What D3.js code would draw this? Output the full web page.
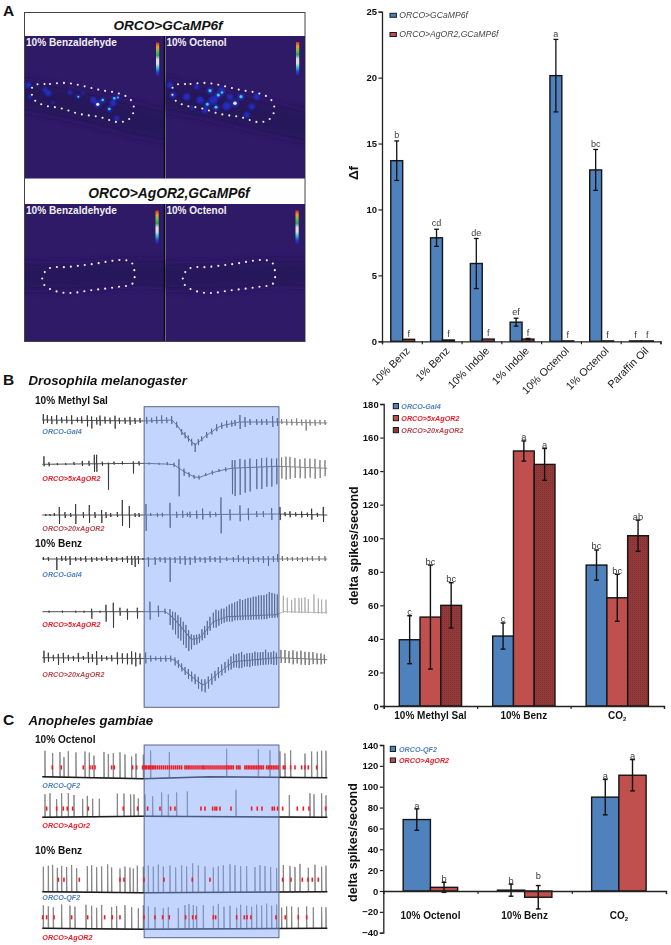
<!DOCTYPE html>
<html>
<head>
<meta charset="utf-8">
<script src="https://cdn.jsdelivr.net/npm/d3@7"></script>
<style>
  body { margin: 0; background: #fff; }
  svg { display: block; }
  text { font-family: "Liberation Sans", Arial, sans-serif; }
</style>
</head>
<body>
<div id="chart"></div>
<script>
var width = 671;
var height = 945;

// panel A bars
var aCategories = ['10% Benz', '1% Benz', '10% Indole', '1% Indole', '10% Octenol', '1% Octenol', 'Paraffin Oil'];
var aSeries = ['ORCO>GCaMP6f', 'ORCO>AgOR2,GCaMP6f'];
var aBlue = [13.7, 7.85, 5.9, 1.45, 20.15, 13.0, 0.03];
var aBlueErr = [1.5, 0.65, 1.9, 0.3, 2.75, 1.55, 0];
var aRed = [0.15, 0.1, 0.17, 0.17, 0.03, 0.03, 0.03];
var aRedErr = [0, 0, 0, 0.05, 0, 0, 0];
var aBlueLetters = ['b', 'cd', 'de', 'ef', 'a', 'bc', 'f'];
var aRedLetters = ['f', 'f', 'f', 'f', 'f', 'f', 'f'];
var aTicks = [0, 5, 10, 15, 20, 25];

// panel B bars
var bCategories = ['10% Methyl Sal', '10% Benz', 'CO2'];
var bSeries = ['ORCO-Gal4', 'ORCO>5xAgOR2', 'ORCO>20xAgOR2'];
var bGal4 = [39.5, 41.7, 84];
var bGal4Err = [14.3, 7.8, 9];
var b5x = [53, 152, 64.5];
var b5xErr = [31, 6, 14];
var b20x = [60, 144, 101.5];
var b20xErr = [13.5, 9.5, 9.3];
var bGal4Letters = ['c', 'c', 'bc'];
var b5xLetters = ['bc', 'a', 'bc'];
var b20xLetters = ['bc', 'a', 'ab'];
var bTicks = [0, 20, 40, 60, 80, 100, 120, 140, 160, 180];

// panel C bars
var cCategories = ['10% Octenol', '10% Benz', 'CO2'];
var cSeries = ['ORCO-QF2', 'ORCO>AgOR2'];
var cQf2 = [68.5, 0.8, 90];
var cQf2Err = [10.3, 5.8, 17];
var cAgOr2 = [3.5, -6, 111];
var cAgOr2Err = [4.8, 11.2, 15];
var cQf2Letters = ['a', 'b', 'a'];
var cAgOr2Letters = ['b', 'b', 'a'];
var cTicks = [-40, -20, 0, 20, 40, 60, 80, 100, 120, 140];

var b1Base = [[0,0],[303,-1],[393,0],[418,-12],[458,-25],[493,-15],[533,-6],[593,-2],[703,-2],[855,-3]];
var b1Spikes = [[3,6,4],[15,5,3],[28,4,4],[43,5,4],[58,3,3],[73,4,3],[88,5,4],[105,3,2],[118,4,3],[135,5,6],[148,4,8],[163,3,4],[173,5,5],[188,4,3],[203,3,3],[218,5,8],[231,3,3],[248,3,3],[263,4,4],[278,3,3],[293,3,2],[313,4,3],[328,3,2],[343,4,3],[358,5,3],[373,3,3],[388,4,4],[403,3,3],[418,3,3],[428,3,3],[438,3,3],[448,3,4],[458,2,7],[468,3,3],[478,3,2],[493,3,3],[508,3,3],[523,4,3],[538,3,3],[553,4,3],[568,3,3],[578,3,3],[593,7,7],[608,5,5],[623,3,3],[643,3,3],[658,3,3],[673,3,3],[691,6,5],[705,4,4],[718,3,2],[733,3,3],[748,3,3],[763,4,3],[778,3,3],[791,3,8],[803,3,3],[818,3,3],[833,3,2],[848,3,2]];

var b2Base = [[0,-1],[303,0],[393,-1],[423,-8],[463,-15],[513,-9],[563,-5],[703,-3],[855,-5]];
var b2Spikes = [[5,8,2],[20,2,2],[45,1,1],[70,1,1],[95,2,1],[120,3,2],[140,3,2],[156,9,8],[163,9,8],[180,2,2],[198,1,26],[215,2,1],[240,2,1],[273,2,10],[290,2,2],[320,1,1],[350,1,1],[375,2,1],[395,2,2],[410,9,28],[425,3,4],[440,2,3],[455,2,2],[470,2,2],[490,2,1],[510,2,2],[530,2,1],[550,2,2],[570,8,26],[578,8,28],[593,9,27],[608,8,25],[623,9,24],[643,8,22],[658,9,22],[673,9,20],[688,8,20],[703,8,18],[718,9,12],[731,10,13],[743,10,12],[758,9,11],[773,8,11],[788,9,11],[803,9,10],[818,9,11],[833,8,10],[848,8,8]];

var b3Base = [[0,0],[303,0],[703,1],[855,0]];
var b3Spikes = [[10,1,1],[23,1,1],[36,2,1],[51,8,9],[68,3,3],[85,2,2],[100,11,9],[123,3,3],[141,10,8],[158,3,3],[178,5,8],[191,3,3],[205,2,2],[225,3,2],[240,15,11],[261,9,13],[278,2,2],[290,2,2],[311,11,16],[325,2,1],[345,2,2],[360,2,2],[383,12,13],[403,3,3],[421,4,3],[435,2,2],[443,3,3],[463,4,4],[481,6,5],[503,3,3],[520,2,2],[536,17,19],[563,5,6],[593,9,7],[618,6,6],[643,3,3],[663,3,3],[688,6,6],[713,7,6],[728,2,2],[743,3,3],[760,2,2],[778,3,3],[795,2,2],[808,6,5],[825,2,2],[843,8,7]];

var b4Base = [[0,0],[855,0]];
var b4Spikes = [[3,2,1],[18,2,2],[43,2,11],[58,3,2],[70,3,2],[83,3,6],[100,2,2],[115,2,2],[130,3,3],[148,2,3],[163,2,2],[178,2,2],[193,3,2],[208,2,3],[223,2,2],[240,2,3],[255,3,4],[268,3,6],[278,3,8],[288,3,5],[302,1,1],[318,2,8],[338,2,6],[353,2,3],[368,2,4],[383,2,23],[398,2,4],[413,3,5],[428,3,6],[443,2,6],[458,3,4],[473,2,3],[488,2,4],[503,3,3],[518,2,3],[533,3,4],[553,2,2],[573,2,3],[588,4,3],[603,3,3],[618,2,5],[633,3,3],[648,2,3],[663,3,4],[678,3,7],[693,3,3],[706,5,3],[720,3,2],[735,2,2],[750,2,2],[765,2,2],[780,2,3],[795,2,2],[810,3,2],[830,3,2],[848,3,2]];

var b5Base = [[0,0],[373,0],[403,-10],[448,-28],[473,-26],[513,-10],[553,-5],[703,-3],[723,0],[855,-1]];
var b5Spikes = [[20,1,1],[60,1,1],[100,1,1],[125,1,1],[148,3,7],[173,1,1],[191,7,10],[213,9,16],[233,4,4],[255,3,8],[285,4,7],[323,10,8],[348,6,5],[368,3,2],[383,6,10],[391,6,12],[399,8,14],[407,8,15],[415,9,14],[423,8,15],[431,8,15],[439,6,15],[447,5,10],[455,4,6],[463,4,6],[471,4,5],[479,6,5],[487,6,6],[495,8,6],[503,9,5],[513,9,6],[521,11,7],[529,9,6],[537,10,5],[545,9,5],[553,10,5],[561,12,5],[569,13,5],[577,14,4],[585,15,4],[593,17,4],[601,16,4],[609,17,4],[617,18,4],[625,18,4],[633,19,4],[641,19,4],[649,20,4],[657,20,4],[665,20,4],[673,21,4],[681,23,3],[689,22,3],[697,21,3],[705,20,3],[723,16,1],[735,14,1],[748,12,1],[758,14,1],[770,14,1],[778,14,1],[788,15,1],[798,13,1],[815,18,1],[828,14,1],[838,13,1],[851,13,1]];

var b6Base = [[0,0],[393,-1],[433,-15],[483,-28],[533,-14],[573,-4],[703,0],[855,-2]];
var b6Spikes = [[5,7,5],[18,5,4],[33,3,3],[48,4,7],[63,5,5],[78,3,3],[93,2,3],[108,5,4],[123,2,2],[138,6,5],[150,4,4],[163,7,7],[178,3,3],[193,2,2],[208,3,3],[225,6,6],[240,5,5],[255,5,6],[268,7,6],[280,6,8],[293,5,6],[310,6,5],[325,3,3],[340,2,2],[355,2,3],[370,3,3],[385,3,3],[398,3,5],[408,4,4],[418,4,4],[428,4,4],[438,5,5],[448,5,5],[458,5,5],[468,5,7],[478,5,7],[488,5,8],[498,5,7],[508,5,6],[518,5,5],[528,6,5],[538,6,5],[548,6,5],[558,6,5],[566,7,6],[574,8,6],[582,7,6],[590,8,7],[598,9,7],[606,6,6],[614,7,6],[622,7,7],[630,7,6],[638,8,6],[646,7,6],[654,7,6],[662,7,6],[670,9,6],[678,6,6],[686,6,6],[694,7,7],[702,5,7],[716,8,5],[728,8,5],[740,7,5],[752,8,6],[764,7,5],[776,8,6],[788,7,6],[800,7,6],[812,7,5],[824,6,5],[836,6,5],[846,5,4]];

// C recordings: baseline is [time, level], spikes are [time, height], counted spikes are times
var c1Base = [[0,0],[305,-2],[500,0],[855,-1]];
var c1Spikes = [[8,26],[31,24],[53,25],[65,20],[78,26],[101,25],[128,26],[141,25],[155,22],[185,26],[198,24],[213,25],[233,26],[248,24],[268,22],[281,25],[303,24],[325,28],[381,26],[553,28],[648,28],[683,27],[713,26],[728,24],[745,27],[788,24],[808,26],[825,26],[838,27],[851,27]];
var c1Counted = [30,57,123,143,150,158,208,216,271,283,301,305,309,313,318,322,326,331,335,340,346,352,358,364,370,376,382,388,394,400,406,412,418,428,433,438,443,449,455,461,467,473,479,483,488,494,500,506,512,518,524,530,536,542,548,553,558,563,568,573,583,588,593,608,613,618,623,628,633,638,643,648,653,658,663,673,678,683,688,693,698,703,708,723,728,745,758,778,788,798,823];

var c2Base = [[0,0],[305,1],[855,0]];
var c2Spikes = [[8,23],[23,24],[43,18],[58,24],[78,24],[95,22],[121,18],[135,21],[151,18],[171,18],[225,23],[245,23],[265,22],[275,22],[288,18],[308,22],[331,20],[358,24],[378,22],[403,24],[435,25],[581,27],[741,22],[803,24],[815,23],[838,24],[851,22]];
var c2Counted = [13,43,63,75,91,138,243,286,316,353,385,398,476,488,511,518,523,533,566,628,645,659,690,696,706,721,765,783,800,850];

var c3Base = [[0,0],[300,-1],[855,0]];
var c3Spikes = [[3,25],[18,26],[31,27],[45,24],[58,26],[73,25],[88,27],[103,24],[135,26],[148,27],[163,25],[178,26],[196,28],[208,25],[233,24],[248,26],[263,25],[273,24],[285,27],[303,26],[318,27],[333,26],[348,28],[363,26],[383,27],[400,25],[418,27],[433,26],[451,29],[468,27],[488,26],[513,25],[528,26],[543,27],[563,28],[578,27],[595,26],[613,26],[638,25],[653,27],[668,26],[685,25],[703,24],[723,27],[743,26],[758,25],[773,28],[798,24],[818,27],[838,25],[851,26]];
var c3Counted = [48,65,111,233,245,305,365,450,503,721,746,780,797,810,828];

var c4Base = [[0,0],[300,-1],[855,0]];
var c4Spikes = [[3,23],[18,22],[33,21],[58,24],[83,23],[98,22],[131,24],[148,23],[163,21],[178,24],[208,22],[223,23],[248,24],[268,22],[288,21],[303,24],[318,23],[338,22],[363,21],[378,22],[408,21],[428,24],[440,25],[453,24],[463,23],[483,24],[513,23],[528,25],[545,22],[563,23],[583,21],[595,24],[613,23],[628,22],[643,24],[658,23],[673,25],[688,23],[703,24],[718,21],[733,22],[748,22],[768,21],[793,22],[813,21],[838,21],[851,21]];
var c4Counted = [1,13,35,88,136,187,210,233,305,338,361,381,430,451,461,513,520,583,606,614,626,701,729,768,793];

var traceTimes = [0, 855];

// image panel A outlines and fluorescence spots: [x, y, radius, level]
var roiUpper = [[33,86],[50,84],[67,83],[83,86],[100,90],[117,93],[130,99],[134,110],[128,120],[117,122],[100,117],[80,114],[60,108],[43,105],[33,98]];
var roiLower = [[43,275],[50,268],[67,267],[93,264],[123,260],[132,263],[133,283],[117,287],[93,290],[67,293],[50,289],[43,283]];
var spots = [[97.7,104.3,2,2],[102.7,100,1.6,1],[109.3,109,1.7,1],[114.3,98.3,1.6,1],[118,97.5,1.2,1],[78.3,96.7,1.3,1],[70,92.3,2.2,0],[48.3,93.3,3,0],[45,90,2.5,0],[53,102.7,1.5,0],[28.3,85,3,0],[30,96.7,2,0],[93.3,100,3,0],[116.7,118.3,2.5,0],[113,103,3,0],[83,93,1.5,0],
  [210,90.7,2,1],[218.3,95,2,1],[222,92.5,1.6,1],[207.3,104.3,1.8,1],[216,107.3,1.8,1],[235,103.3,2.2,2],[241,96.7,2,1],[173,95,3,0],[170,85,3,0],[186.7,96.7,3.5,0],[200,100,3.5,0],[205,110,3,0],[226.7,106,4,0],[251.7,106.7,3,0],[246.7,115,3,0],[256.7,96.7,3,0],[196.7,86.7,2.5,0],[221.7,90,3,0],[230,96.7,3,0],[213.3,100,4,0],[192,108,2,0]];
var spotColors = ['#2233d8', '#3fd0c8', '#e8f5c0'];
var colorbarStops = ['#d8301c', '#e8a020', '#6cc040', '#30a060', '#d8e0d8', '#d8e0d8', '#30c0c0', '#2040d8', '#2a1a78'];

var svg = d3.select('#chart')
  .append('svg')
  .attr('width', width)
  .attr('height', height);

var defs = svg.append('defs');

function addBlur(id, amount) {
  defs.append('filter')
    .attr('id', id)
    .attr('filterUnits', 'userSpaceOnUse')
    .attr('x', 0).attr('y', 0).attr('width', width).attr('height', height)
    .append('feGaussianBlur')
    .attr('stdDeviation', amount);
}
addBlur('soft', 0.3);
addBlur('glow', 1.3);
addBlur('wide', 4);

// dotted fill of the third bar in B
var hatch = defs.append('pattern')
  .attr('id', 'hatch')
  .attr('patternUnits', 'userSpaceOnUse')
  .attr('width', 2)
  .attr('height', 2);
hatch.append('rect').attr('width', 2).attr('height', 2).attr('fill', '#933b3a');
hatch.append('rect').attr('width', 1).attr('height', 1).attr('fill', '#7f2d2d');

var cbGrad = defs.append('linearGradient')
  .attr('id', 'cbar')
  .attr('x1', 0).attr('x2', 0).attr('y1', 0).attr('y2', 1);
cbGrad.selectAll('stop')
  .data(colorbarStops)
  .enter().append('stop')
  .attr('offset', function(d, i) { return i / (colorbarStops.length - 1); })
  .attr('stop-color', function(d) { return d; });

function addText(parent, str, x, y, size, opts) {
  opts = opts || {};
  return parent.append('text')
    .attr('x', x)
    .attr('y', y)
    .attr('font-size', size)
    .attr('font-weight', opts.weight || 'bold')
    .attr('font-style', opts.italic ? 'italic' : 'normal')
    .attr('fill', opts.color || '#111')
    .attr('text-anchor', opts.anchor || 'start')
    .text(str);
}

// ---- panel A image ----
var imgA = svg.append('g');

imgA.append('rect').attr('x', 24.5).attr('y', 12.5).attr('width', 280.5).attr('height', 329)
  .attr('fill', '#fff').attr('stroke', '#444').attr('stroke-width', 1);

var panes = [
  { x: 25, y: 36, w: 139, h: 142.5 }, { x: 165.5, y: 36, w: 139.5, h: 142.5 },
  { x: 25, y: 204, w: 139, h: 137 }, { x: 165.5, y: 204, w: 139.5, h: 137 }
];
imgA.selectAll('.pane')
  .data(panes)
  .enter().append('rect')
  .attr('class', 'pane')
  .attr('x', function(d) { return d.x; })
  .attr('y', function(d) { return d.y; })
  .attr('width', function(d) { return d.w; })
  .attr('height', function(d) { return d.h; })
  .attr('fill', '#2f1a68');

// dark antenna band behind the outlines
defs.selectAll('.paneClip')
  .data(panes)
  .enter().append('clipPath')
  .attr('id', function(d, i) { return 'pane' + i; })
  .append('rect')
  .attr('x', function(d) { return d.x; })
  .attr('y', function(d) { return d.y; })
  .attr('width', function(d) { return d.w; })
  .attr('height', function(d) { return d.h; });

var band = d3.line().curve(d3.curveBasis);
panes.forEach(function(p, i) {
  var upper = i < 2;
  var pts = upper
    ? [[p.x - 10, p.y + 58], [p.x + 50, p.y + 68], [p.x + 100, p.y + 82], [p.x + 150, p.y + 92]]
    : [[p.x - 10, p.y + 72], [p.x + 50, p.y + 74], [p.x + 100, p.y + 68], [p.x + 150, p.y + 70]];
  imgA.append('g').attr('clip-path', 'url(#pane' + i + ')')
    .append('path')
    .attr('d', band(pts))
    .attr('fill', 'none')
    .attr('stroke', '#26135a')
    .attr('stroke-width', upper ? 30 : 26)
    .attr('filter', 'url(#wide)');
});

// spots, blue glow first and bright cores on top
imgA.append('g').attr('filter', 'url(#glow)').attr('opacity', 0.85)
  .selectAll('circle')
  .data(spots)
  .enter().append('circle')
  .attr('cx', function(d) { return d[0]; })
  .attr('cy', function(d) { return d[1]; })
  .attr('r', function(d) { return d[3] ? d[2] * 1.6 : d[2]; })
  .attr('fill', spotColors[0]);
imgA.append('g').attr('filter', 'url(#soft)')
  .selectAll('circle')
  .data(spots.filter(function(d) { return d[3] > 0; }))
  .enter().append('circle')
  .attr('cx', function(d) { return d[0]; })
  .attr('cy', function(d) { return d[1]; })
  .attr('r', function(d) { return d[2] * 0.8; })
  .attr('fill', function(d) { return spotColors[d[3]]; });

// dotted outlines
function drawRoi(points, dx) {
  var line = d3.line().curve(d3.curveCatmullRomClosed.alpha(0.5));
  var path = imgA.append('path')
    .attr('d', line(points))
    .attr('fill', 'none')
    .attr('transform', 'translate(' + dx + ',0)');
  var node = path.node();
  var len = node.getTotalLength();
  imgA.selectAll(null)
    .data(d3.range(0, len, 7))
    .enter().append('circle')
    .attr('cx', function(d) { return node.getPointAtLength(d).x + dx; })
    .attr('cy', function(d) { return node.getPointAtLength(d).y; })
    .attr('r', 1.05)
    .attr('fill', '#f4f4f4');
}
drawRoi(roiUpper, 0);
drawRoi(roiUpper, 140.5);
drawRoi(roiLower, 0);
drawRoi(roiLower, 140.5);

// divider
imgA.append('rect').attr('x', 163.7).attr('y', 36).attr('width', 1.6).attr('height', 142.5).attr('fill', '#0a0a14');
imgA.append('rect').attr('x', 163.7).attr('y', 204).attr('width', 1.6).attr('height', 137).attr('fill', '#0a0a14');

// colour bars
[[156, 42.5], [296, 42], [155.5, 210.5], [295.5, 210.5]].forEach(function(p) {
  imgA.append('rect').attr('x', p[0]).attr('y', p[1]).attr('width', 3.2).attr('height', 34).attr('fill', 'url(#cbar)');
});

addText(imgA, 'ORCO>GCaMP6f', 168, 29.5, 13.6, { italic: true, anchor: 'middle' });
addText(imgA, 'ORCO>AgOR2,GCaMP6f', 169, 197.5, 13.8, { italic: true, anchor: 'middle' });
var paneLabel = { color: '#f0f0f0' };
addText(imgA, '10% Benzaldehyde', 26, 46, 10.1, paneLabel);
addText(imgA, '10% Octenol', 166.5, 46, 10, paneLabel);
addText(imgA, '10% Benzaldehyde', 26, 214, 10.1, paneLabel);
addText(imgA, '10% Octenol', 166.5, 214, 10, paneLabel);

addText(svg, 'A', 3, 16, 15.5);
addText(svg, 'B', 3, 385, 15.5);
addText(svg, 'C', 3, 725, 15.5);

// ---- recordings ----
var traceX = d3.scaleLinear().domain(traceTimes).range([42.3, 327.3]);
var traceY = d3.scaleLinear().domain([-40, 40]).range([40, -40]);
var traceLine = d3.line()
  .x(function(d) { return traceX(d[0]); })
  .y(function(d) { return traceY(d[1]); });

function baseLevel(base) {
  return d3.scaleLinear()
    .domain(base.map(function(d) { return d[0]; }))
    .range(base.map(function(d) { return d[1]; }));
}

function spikePath(base, spikes) {
  var level = baseLevel(base);
  var pts = [[0, level(0)]];
  spikes.forEach(function(s) {
    var b = level(s[0]);
    var down = s.length > 2 ? s[2] : 0;
    pts.push([s[0] - 0.5, b], [s[0], b + s[1]]);
    if (down) pts.push([s[0] + 0.6, b - down]);
    pts.push([s[0] + 1.2, b]);
  });
  pts.push([855, level(855)]);
  return traceLine(pts);
}

// recordings are lighter past the end of the stimulus
function traceGradient(id, right) {
  var g = defs.append('linearGradient')
    .attr('id', id)
    .attr('gradientUnits', 'userSpaceOnUse')
    .attr('x1', traceX(0)).attr('x2', traceX(855)).attr('y1', 0).attr('y2', 0);
  g.append('stop').attr('offset', 0.83).attr('stop-color', '#303030');
  g.append('stop').attr('offset', 0.83).attr('stop-color', right);
}

var bTraces = [
  { id: 'b1', y: 420, base: b1Base, spikes: b1Spikes, right: '#777' },
  { id: 'b2', y: 463.3, base: b2Base, spikes: b2Spikes, right: '#777' },
  { id: 'b3', y: 515, base: b3Base, spikes: b3Spikes, right: '#2a2a2a' },
  { id: 'b4', y: 559, base: b4Base, spikes: b4Spikes, right: '#666' },
  { id: 'b5', y: 611.7, base: b5Base, spikes: b5Spikes, right: '#aaa' },
  { id: 'b6', y: 657.7, base: b6Base, spikes: b6Spikes, right: '#666' }
];

var bTraceGroup = svg.append('g').attr('filter', 'url(#soft)');
bTraces.forEach(function(t) {
  traceGradient('grad' + t.id, t.right);
  bTraceGroup.append('path')
    .attr('transform', 'translate(0,' + t.y + ')')
    .attr('d', spikePath(t.base, t.spikes))
    .attr('fill', 'none')
    .attr('stroke', 'url(#grad' + t.id + ')')
    .attr('stroke-width', 0.85);
});

var cTraces = [
  { y: 776.7, base: c1Base, spikes: c1Spikes, counted: c1Counted, tick: 9.3 },
  { y: 817.3, base: c2Base, spikes: c2Spikes, counted: c2Counted, tick: 8.7 },
  { y: 891.7, base: c3Base, spikes: c3Spikes, counted: c3Counted, tick: 12 },
  { y: 928.3, base: c4Base, spikes: c4Spikes, counted: c4Counted, tick: 11 }
];

var cTraceGroup = svg.append('g').attr('filter', 'url(#soft)');
cTraces.forEach(function(t) {
  var g = cTraceGroup.append('g').attr('transform', 'translate(0,' + t.y + ')');
  g.append('path')
    .attr('d', spikePath(t.base, t.spikes))
    .attr('fill', 'none')
    .attr('stroke', '#808080')
    .attr('stroke-width', 0.9);
  g.append('path')
    .attr('d', traceLine(t.base))
    .attr('fill', 'none')
    .attr('stroke', '#1a1a1a')
    .attr('stroke-width', 1.4);
});

// stimulus windows drawn over the recordings
function stimulus(y0, y1) {
  svg.append('rect')
    .attr('x', traceX(305.5))
    .attr('y', y0)
    .attr('width', traceX(710) - traceX(305.5))
    .attr('height', y1 - y0)
    .attr('fill', 'rgb(130,165,250)')
    .attr('fill-opacity', 0.47)
    .attr('stroke', '#5a6684')
    .attr('stroke-width', 1);
}
stimulus(406.7, 707.3);
stimulus(745, 937.7);

// counted spikes sit on top of the window
cTraces.forEach(function(t) {
  svg.append('g')
    .attr('transform', 'translate(0,' + t.y + ')')
    .selectAll('rect')
    .data(t.counted)
    .enter().append('rect')
    .attr('x', function(d) { return traceX(d) - 0.8; })
    .attr('y', traceY(t.tick + 2.1))
    .attr('width', 1.6)
    .attr('height', traceY(0) - traceY(4.2))
    .attr('fill', '#f01c28');
});

addText(svg, 'Drosophila melanogaster', 28.5, 385, 13.2, { italic: true });
addText(svg, 'Anopheles gambiae', 28.5, 725, 13.2, { italic: true });
addText(svg, '10% Methyl Sal', 35, 404, 10.1);
addText(svg, '10% Benz', 35, 547, 10.1);
addText(svg, '10% Octenol', 35, 742.7, 10.1);
addText(svg, '10% Benz', 35, 854, 10.1);

var blueText = '#5182c4';
var redText = '#ee1c2a';
var brownText = '#b8494d';
var lab = function(str, y, color) { addText(svg, str, 42.3, y, 7.2, { italic: true, color: color }); };
lab(bSeries[0], 434, blueText);
lab(bSeries[1], 481, redText);
lab(bSeries[2], 531, brownText);
lab(bSeries[0], 577, blueText);
lab(bSeries[1], 627, redText);
lab(bSeries[2], 677, brownText);
lab(cSeries[0], 787.7, blueText);
lab('ORCO>AgOr2', 828, redText);
lab(cSeries[0], 900, blueText);
lab(cSeries[1], 940, redText);

// ---- bar charts ----
function barChart(o) {
  var g = svg.append('g');
  var x0 = d3.scaleBand().domain(o.categories).range(o.xRange);
  var x1 = d3.scaleBand().domain(o.series.map(function(d) { return d.name; }))
    .range([0, x0.bandwidth()])
    .paddingOuter(o.outer)
    .paddingInner(0)
    .align(o.align);
  var y = d3.scaleLinear().domain(o.yDomain).range(o.yRange);

  o.series.forEach(function(s) {
    var rows = o.categories.map(function(c, i) {
      return { cat: c, v: s.values[i], e: s.errs[i], letter: s.letters[i] };
    });
    var grp = g.append('g');

    grp.selectAll('rect')
      .data(rows)
      .enter().append('rect')
      .attr('x', function(d) { return x0(d.cat) + x1(s.name); })
      .attr('y', function(d) { return y(Math.max(d.v, 0)); })
      .attr('width', x1.bandwidth())
      .attr('height', function(d) { return Math.abs(y(d.v) - y(0)); })
      .attr('fill', s.fill)
      .attr('stroke', '#151515')
      .attr('stroke-width', o.barStroke);

    // error bars
    var err = grp.selectAll('.err')
      .data(rows.filter(function(d) { return d.e > 0; }))
      .enter().append('g')
      .attr('class', 'err')
      .attr('stroke', '#111')
      .attr('stroke-width', o.errStroke);
    var cx = function(d) { return x0(d.cat) + x1(s.name) + x1.bandwidth() / 2; };
    err.append('line')
      .attr('x1', cx).attr('x2', cx)
      .attr('y1', function(d) { return y(d.v - d.e); })
      .attr('y2', function(d) { return y(d.v + d.e); });
    err.append('line')
      .attr('x1', function(d) { return cx(d) - 2.4; }).attr('x2', function(d) { return cx(d) + 2.4; })
      .attr('y1', function(d) { return y(d.v + d.e); }).attr('y2', function(d) { return y(d.v + d.e); });
    err.append('line')
      .attr('x1', function(d) { return cx(d) - 2.4; }).attr('x2', function(d) { return cx(d) + 2.4; })
      .attr('y1', function(d) { return y(d.v - d.e); }).attr('y2', function(d) { return y(d.v - d.e); });

    // significance letters
    grp.selectAll('.letter')
      .data(rows)
      .enter().append('text')
      .attr('class', 'letter')
      .attr('x', cx)
      .attr('y', function(d) { return y(Math.max(d.v, 0) + d.e) - o.letterGap; })
      .attr('text-anchor', 'middle')
      .attr('font-size', o.letterSize)
      .attr('fill', '#3a3a3a')
      .text(function(d) { return d.letter; });
  });

  // axes
  var yAxis = d3.axisLeft(y).tickValues(o.yTicks).tickSize(3.5).tickPadding(1.5).tickFormat(d3.format('d'));
  var gy = g.append('g').attr('transform', 'translate(' + o.xRange[0] + ',0)').call(yAxis);
  var xEdge = d3.scaleLinear().domain([0, o.categories.length]).range(o.xRange);
  var xAxis = d3.axisBottom(xEdge).tickValues(d3.range(o.categories.length + 1)).tickSize(3).tickFormat('');
  var gx = g.append('g').attr('transform', 'translate(0,' + y(0) + ')').call(xAxis);
  [gx, gy].forEach(function(a) {
    a.selectAll('path').attr('stroke', '#222').attr('stroke-width', o.axisStroke);
    a.selectAll('line').attr('stroke', '#222').attr('stroke-width', o.axisStroke * 0.9);
  });
  gy.selectAll('text')
    .attr('font-family', '"Liberation Sans", Arial, sans-serif')
    .attr('font-size', 9.5)
    .attr('font-weight', 'bold')
    .attr('fill', '#111');

  return { g: g, x0: x0, y: y };
}

// panel A
var chartA = barChart({
  categories: aCategories,
  series: [
    { name: aSeries[0], values: aBlue, errs: aBlueErr, letters: aBlueLetters, fill: '#4f81bd' },
    { name: aSeries[1], values: aRed, errs: aRedErr, letters: aRedLetters, fill: '#c0504d' }
  ],
  xRange: [382, 660.5],
  yDomain: [0, 25],
  yRange: [341.3, 11.7],
  yTicks: aTicks,
  outer: 0.67,
  align: 0.55,
  barStroke: 1.4,
  errStroke: 1.3,
  axisStroke: 1.3,
  letterGap: 2.8,
  letterSize: 9
});
aCategories.forEach(function(c) {
  var cx = chartA.x0(c) + chartA.x0.bandwidth() / 2 + 4;
  svg.append('text')
    .attr('transform', 'translate(' + cx + ',347) rotate(-45)')
    .attr('text-anchor', 'end')
    .attr('dy', '0.6em')
    .attr('font-size', 10.7)
    .attr('fill', '#222')
    .text(c);
});
svg.append('text')
  .attr('transform', 'translate(358,173) rotate(-90)')
  .attr('text-anchor', 'middle')
  .attr('font-size', 13.5)
  .attr('font-weight', 'bold')
  .attr('fill', '#111')
  .text('Δf');

// panel B
var chartB = barChart({
  categories: bCategories,
  series: [
    { name: bSeries[0], values: bGal4, errs: bGal4Err, letters: bGal4Letters, fill: '#4f81bd' },
    { name: bSeries[1], values: b5x, errs: b5xErr, letters: b5xLetters, fill: '#c0504d' },
    { name: bSeries[2], values: b20x, errs: b20xErr, letters: b20xLetters, fill: 'url(#hatch)' }
  ],
  xRange: [383.7, 664],
  yDomain: [0, 180],
  yRange: [706, 404],
  yTicks: bTicks,
  outer: 0.75,
  align: 0.5,
  barStroke: 1.4,
  errStroke: 1.4,
  axisStroke: 1.3,
  letterGap: 0.5,
  letterSize: 9.3
});

// panel C
var chartC = barChart({
  categories: cCategories,
  series: [
    { name: cSeries[0], values: cQf2, errs: cQf2Err, letters: cQf2Letters, fill: '#4f81bd' },
    { name: cSeries[1], values: cAgOr2, errs: cAgOr2Err, letters: cAgOr2Letters, fill: '#c0504d' }
  ],
  xRange: [383.3, 666],
  yDomain: [-40, 140],
  yRange: [932.7, 745],
  yTicks: cTicks,
  outer: 0.73,
  align: 0.5,
  barStroke: 1.4,
  errStroke: 1.4,
  axisStroke: 1.3,
  letterGap: 0.3,
  letterSize: 9.3
});

function groupLabels(chart, cats, y) {
  cats.forEach(function(c) {
    var t = svg.append('text')
      .attr('x', chart.x0(c) + chart.x0.bandwidth() / 2)
      .attr('y', y)
      .attr('text-anchor', 'middle')
      .attr('font-size', 10)
      .attr('font-weight', 'bold')
      .attr('fill', '#111');
    if (c === 'CO2') {
      t.append('tspan').text('CO');
      t.append('tspan').attr('dy', 2).attr('font-size', 6).text('2');
    } else {
      t.text(c);
    }
  });
}
groupLabels(chartB, bCategories, 719);
groupLabels(chartC, cCategories, 919.3);

function yTitle(x, y, str) {
  svg.append('text')
    .attr('transform', 'translate(' + x + ',' + y + ') rotate(-90)')
    .attr('text-anchor', 'middle')
    .attr('font-size', 12.5)
    .attr('font-weight', 'bold')
    .attr('fill', '#111')
    .text(str);
}
yTitle(357.5, 545.7, 'delta spikes/second');
yTitle(357, 842.5, 'delta spikes/second');

// legends
function legendItem(x, y, w, h, fill, tx, ty, str, size, opts) {
  svg.append('rect')
    .attr('x', x).attr('y', y).attr('width', w).attr('height', h)
    .attr('fill', fill).attr('stroke', '#1a1a1a').attr('stroke-width', 1);
  addText(svg, str, tx, ty, size, opts);
}
var plainItalic = { italic: true, weight: 'normal', color: '#444' };
legendItem(390, 13.3, 6.4, 4, '#4f81bd', 399.3, 18, aSeries[0], 8.6, plainItalic);
legendItem(390, 32.5, 6.4, 4, '#c0504d', 399.3, 37.3, aSeries[1], 8.6, plainItalic);

legendItem(393.3, 403.5, 5.2, 5.2, '#4f81bd', 401.3, 408.7, bSeries[0], 7.2, { italic: true, color: blueText });
legendItem(393.3, 415.5, 5.2, 5.2, '#c0504d', 401.3, 420.7, bSeries[1], 7.2, { italic: true, color: redText });
legendItem(393.3, 427.5, 5.2, 5.2, 'url(#hatch)', 401.3, 432.7, bSeries[2], 7.2, { italic: true, color: brownText });

legendItem(390.3, 746.3, 5.2, 5.2, '#4f81bd', 399, 751.5, cSeries[0], 7.2, { italic: true, color: blueText });
legendItem(390.3, 758, 5.2, 4.4, '#c0504d', 399, 762.5, cSeries[1], 7.2, { italic: true, color: redText });
</script>
</body>
</html>
